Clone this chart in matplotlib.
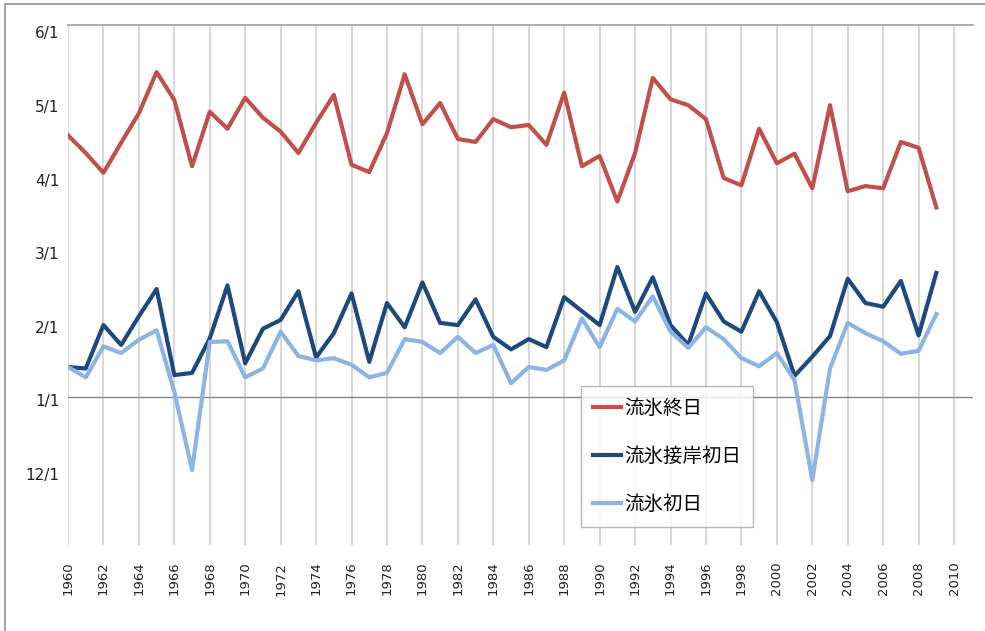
import matplotlib
matplotlib.use("Agg")
import matplotlib.pyplot as plt
from matplotlib.lines import Line2D
from matplotlib.transforms import ScaledTranslation
import numpy as np

plt.rcParams['font.family'] = ['DejaVu Sans']

# Values are in "month units" relative to 1/1 (0 = 1/1, 1 = 2/1, ..., -1 = 12/1)
years = list(range(1960, 2010))

ice_end = [3.56, 3.32, 3.05, 3.46, 3.86, 4.42, 4.04, 3.14, 3.88, 3.65,
           4.07, 3.80, 3.61, 3.32, 3.73, 4.11, 3.16, 3.06, 3.59, 4.39,
           3.71, 4.00, 3.51, 3.47, 3.78, 3.67, 3.70, 3.43, 4.14, 3.14,
           3.28, 2.66, 3.32, 4.34, 4.05, 3.97, 3.78, 2.98, 2.88, 3.65,
           3.18, 3.31, 2.84, 3.97, 2.80, 2.87, 2.84, 3.47, 3.39, 2.58]

ice_shore = [0.41, 0.39, 0.98, 0.71, 1.10, 1.47, 0.30, 0.33, 0.80, 1.52,
             0.46, 0.93, 1.05, 1.44, 0.54, 0.87, 1.41, 0.48, 1.28, 0.95,
             1.56, 1.01, 0.98, 1.33, 0.82, 0.65, 0.79, 0.68, 1.36, 1.17,
             0.98, 1.77, 1.16, 1.63, 0.98, 0.71, 1.41, 1.03, 0.89, 1.44,
             1.02, 0.29, 0.55, 0.83, 1.61, 1.28, 1.23, 1.58, 0.84, 1.69]

ice_first = [0.41, 0.27, 0.69, 0.60, 0.78, 0.91, 0.07, -0.99, 0.75, 0.76,
             0.27, 0.39, 0.89, 0.56, 0.50, 0.53, 0.44, 0.27, 0.33, 0.79,
             0.75, 0.60, 0.82, 0.60, 0.71, 0.19, 0.41, 0.37, 0.50, 1.07,
             0.68, 1.20, 1.03, 1.37, 0.89, 0.67, 0.95, 0.79, 0.53, 0.42,
             0.60, 0.23, -1.13, 0.39, 1.01, 0.87, 0.76, 0.59, 0.63, 1.13]

series_names = ['流氷終日', '流氷接岸初日', '流氷初日']
series_colors = ['#C0504D', '#1F497D', '#8DB4E2']

ytick_vals = [5, 4, 3, 2, 1, 0, -1]
ytick_labels = ['6/1', '5/1', '4/1', '3/1', '2/1', '1/1', '12/1']
xtick_years = list(range(1960, 2011, 2))

W, H = 985, 631
fig = plt.figure(figsize=(W / 100, H / 100), dpi=100)
ax = fig.add_axes([68 / W, 1 - 545 / H, (973 - 68) / W, (545 - 25) / H])

for vals, name, col in zip([ice_end, ice_shore, ice_first], series_names, series_colors):
    ax.plot(years, vals, color=col, lw=3.0, label=name, zorder=3)

ax.set_xlim(1960, 2011.07)
ax.set_ylim(-2.01, 5.06)

for yr in xtick_years:
    ax.axvline(yr, color='#D4D4D4', lw=1.3, zorder=1)
ax.axhline(0, color='#868686', lw=1.0, zorder=2)

for s in ['left', 'right', 'bottom']:
    ax.spines[s].set_visible(False)
ax.spines['top'].set_color('#A6A6A6')
ax.spines['top'].set_linewidth(1.3)

ax.set_yticks(ytick_vals)
ax.set_yticklabels(ytick_labels, fontsize=11, color='#222222')
ax.set_xticks(xtick_years)
ax.set_xticklabels([str(y) for y in xtick_years], rotation=90, fontsize=9.5,
                   color='#222222')
ax.tick_params(axis='y', length=0, pad=6)
ax.tick_params(axis='x', length=0, pad=12)
shift = ScaledTranslation(0, -3 / 100, fig.dpi_scale_trans)
for lbl in ax.get_yticklabels():
    lbl.set_transform(lbl.get_transform() + shift)

leg = ax.legend(loc='upper left', bbox_to_anchor=(581 / W, 1 - 386 / H),
                bbox_transform=fig.transFigure,
                prop={'family': ['Noto Sans CJK JP', 'DejaVu Sans'], 'size': 14},
                frameon=True, fancybox=False, shadow=False, borderaxespad=0,
                handlelength=1.45, handletextpad=0.15, labelspacing=1.39,
                borderpad=0.62)
leg.get_frame().set_edgecolor('#A6A6A6')
leg.get_frame().set_linewidth(1.0)
for line in leg.get_lines():
    line.set_linewidth(3.0)

# outer chart frame (left and top visible in screenshot)
fig.add_artist(Line2D([5 / W, 5 / W], [0, 1 - 4 / H], color='#A6A6A6', lw=1.5,
                      transform=fig.transFigure))
fig.add_artist(Line2D([5 / W, 1], [1 - 4 / H, 1 - 4 / H], color='#A6A6A6', lw=1.5,
                      transform=fig.transFigure))

fig.savefig('out.png', dpi=100)
